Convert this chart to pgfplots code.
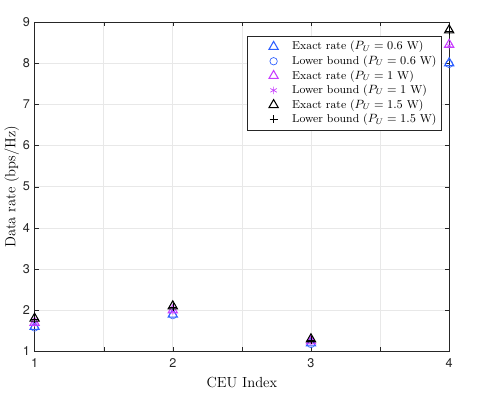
\documentclass[border=0pt]{standalone}
\usepackage{fontspec}
\usepackage{pgfplots}
\pgfplotsset{compat=1.18}
\newfontfamily\tickfont{TeX Gyre Heros}
\definecolor{mblue}{RGB}{45,95,255}
\definecolor{mpurple}{RGB}{200,60,255}
\definecolor{axgray}{RGB}{38,38,38}
\pgfplotsset{wide mark/.style={legend image code/.code={%
    \path[draw=none,fill=none] (0pt,-3pt) rectangle (30pt,3pt);
    \draw[mark repeat=2,mark phase=2,##1] plot coordinates {(17pt,0pt) (18pt,0pt) (19pt,0pt)};}}}
\begin{document}
\begin{tikzpicture}
\begin{axis}[
    width=312pt, height=248pt,
    scale only axis,
    xmin=1, xmax=4, ymin=1, ymax=9,
    xtick={1,1.5,2,2.5,3,3.5,4},
    xticklabels={1,,2,,3,,4},
    ytick={1,2,...,9},
    grid=major,
    grid style={gray!18, line width=0.5pt},
    axis line style={axgray, line width=0.5pt},
    tick style={axgray},
    tick align=inside,
    major tick length=3pt,
    ticklabel style={font=\tickfont\fontsize{9.5}{11}\selectfont, text=axgray},
    xticklabel style={yshift=-2pt},
    /pgf/number format/assume math mode=true,
    xlabel={CEU Index}, ylabel={Data rate (bps/Hz)},
    label style={font=\fontsize{11}{13}\selectfont},
    xlabel style={yshift=0pt},
    ylabel style={yshift=-4pt},
    clip=false,
    legend style={at={(0.983,0.958)}, anchor=north east, draw=axgray, line width=0.5pt,
        font=\fontsize{8.6}{10}\selectfont, row sep=-1pt, inner sep=2pt},
    legend cell align=left,
]
\addplot[only marks, wide mark, mark=triangle, mark size=4pt, mblue, thick] coordinates {(1,1.60) (2,1.90) (3,1.20) (4,8.00)};
\addplot[only marks, wide mark, mark=o, mark size=2.8pt, mblue] coordinates {(1,1.58) (2,1.88) (3,1.18) (4,7.98)};
\addplot[only marks, wide mark, mark=triangle, mark size=4pt, mpurple, thick] coordinates {(1,1.70) (2,2.00) (3,1.25) (4,8.45)};
\addplot[only marks, wide mark, mark=asterisk, mark size=2.8pt, mpurple] coordinates {(1,1.68) (2,1.98) (3,1.23) (4,8.42)};
\addplot[only marks, wide mark, mark=triangle, mark size=4pt, black, thick] coordinates {(1,1.80) (2,2.10) (3,1.30) (4,8.80)};
\addplot[only marks, wide mark, mark=+, mark size=3pt, black] coordinates {(1,1.78) (2,2.08) (3,1.28) (4,8.78)};
\legend{Exact rate ($P_U=0.6$ W), Lower bound ($P_U=0.6$ W), Exact rate ($P_U=1$ W), Lower bound ($P_U=1$ W), Exact rate ($P_U=1.5$ W), Lower bound ($P_U=1.5$ W)}
\end{axis}
\path ([xshift=-24.75pt,yshift=-36pt]current axis.south west) rectangle ([xshift=36.75pt,yshift=16.5pt]current axis.north east);
\end{tikzpicture}
\end{document}
